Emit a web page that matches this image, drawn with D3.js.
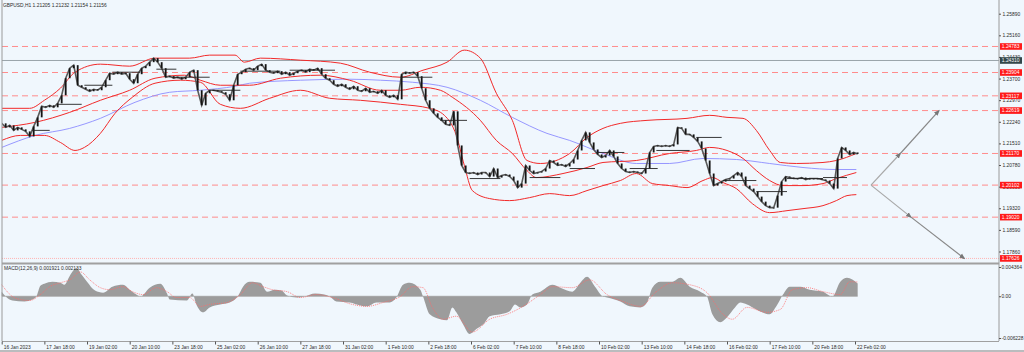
<!DOCTYPE html>
<html>
<head>
<meta charset="UTF-8" />
<title>GBPUSD H1</title>
<script src="https://d3js.org/d3.v7.min.js"></script>
<style>
  body { margin: 0; background: #f0f7fd; }
  text { font-family: "Liberation Sans", Arial, sans-serif; font-size: 4.9px; fill: #2a2a2a; }
</style>
</head>
<body>
<svg id="chart" width="1024" height="352"></svg>
<script>
// ---------------- data ----------------
var titleText = "GBPUSD,H1  1.21205 1.21232 1.21154 1.21156"
var macdText = "MACD(12,26,9) 0.001921 0.002133"

// close price every 3 bars (H1 bars, bar 0 = 16 Jan 10:00)
var barStep = 3
var closes = [
  1.22187,1.22051,1.22119,1.21950,1.22051,1.21984,1.21916,1.21746,1.22085,1.22390,
  1.22763,1.22729,1.22797,1.22729,1.22864,1.23135,1.23711,1.24050,1.24152,1.23474,
  1.23406,1.23339,1.23271,1.23339,1.23305,1.23406,1.23644,1.23881,1.23847,1.23915,
  1.23847,1.23881,1.23678,1.23542,1.23847,1.24050,1.24118,1.24253,1.24389,1.24253,
  1.24050,1.23745,1.23779,1.23711,1.23745,1.23678,1.23745,1.23915,1.23982,1.23305,
  1.22797,1.23203,1.23305,1.23305,1.23271,1.23237,1.23169,1.22966,1.23474,1.23847,
  1.23915,1.24016,1.24050,1.23982,1.24118,1.24186,1.23982,1.23915,1.23881,1.23949,
  1.23847,1.23915,1.23813,1.23881,1.23949,1.23982,1.23915,1.24016,1.23982,1.24050,
  1.23847,1.23711,1.23644,1.23508,1.23440,1.23508,1.23406,1.23339,1.23440,1.23305,
  1.23271,1.23373,1.23237,1.23271,1.23203,1.23305,1.23135,1.23068,1.23135,1.23000,
  1.23847,1.23915,1.23881,1.23915,1.23779,1.23373,1.22966,1.22695,1.22526,1.22390,
  1.22288,1.22153,1.22119,1.22593,1.21441,1.20764,1.20527,1.20493,1.20527,1.20459,
  1.20527,1.20527,1.20391,1.20662,1.20357,1.20425,1.20459,1.20391,1.20256,1.20018,
  1.20154,1.20764,1.20594,1.20493,1.20527,1.20561,1.20662,1.20933,1.20865,1.20764,
  1.20798,1.20730,1.20832,1.20967,1.21272,1.21611,1.21882,1.21543,1.21306,1.21137,
  1.21035,1.21103,1.21272,1.21069,1.20832,1.20662,1.20561,1.20527,1.20561,1.20527,
  1.20493,1.20662,1.21204,1.21408,1.21441,1.21408,1.21441,1.21408,1.21475,1.22051,
  1.22017,1.21814,1.21814,1.21712,1.21577,1.21340,1.20933,1.20493,1.20086,1.20154,
  1.20222,1.20290,1.20323,1.20425,1.20527,1.20391,1.20086,1.19985,1.19883,1.19714,
  1.19544,1.19409,1.19341,1.19341,1.19747,1.20222,1.20391,1.20357,1.20323,1.20323,
  1.20357,1.20290,1.20323,1.20323,1.20323,1.20290,1.20256,1.20154,1.19985,1.21001,
  1.21374,1.21272,1.21137,1.21204,1.21156
]

// indicator lines, [bar, price]
var bbUpper = [[0,1.22695],[21,1.22695],[32,1.22966],[44,1.23373],[55,1.23915],[74,1.24186],[96,1.24118],
  [115,1.24389],[141,1.24389],[156,1.24491],[175,1.24491],[182,1.24253],[194,1.24389],[224,1.24321],
  [254,1.24220],[276,1.23915],[299,1.23745],[316,1.23982],[334,1.24253],[347,1.24660],[359,1.24389],
  [371,1.23203],[383,1.22288],[394,1.20933],[404,1.20832],[426,1.21170],[439,1.21712],[451,1.22017],
  [464,1.22187],[484,1.22288],[514,1.22356],[531,1.22458],[544,1.22390],[556,1.22356],[566,1.21950],
  [576,1.21272],[584,1.20866],[596,1.20832],[616,1.20866],[626,1.20933],[641,1.21170]]
var bbMiddle = [[0,1.22051],[25,1.22221],[51,1.22559],[74,1.22966],[96,1.23305],[115,1.23711],[137,1.23813],
  [149,1.23644],[164,1.23474],[186,1.23474],[209,1.23711],[239,1.23813],[261,1.23644],[284,1.23305],
  [299,1.23305],[314,1.23406],[329,1.23305],[338,1.23068],[359,1.22288],[371,1.21611],[383,1.21170],
  [394,1.20594],[401,1.20357],[421,1.20493],[439,1.20696],[451,1.20866],[476,1.20933],[501,1.21170],
  [521,1.21272],[531,1.21374],[544,1.21272],[556,1.21001],[566,1.20594],[576,1.20256],[586,1.20086],
  [601,1.20086],[616,1.20154],[626,1.20323],[641,1.20527]]
var bbLower = [[0,1.21611],[14,1.21780],[32,1.21780],[44,1.21543],[55,1.21272],[62,1.21374],[74,1.21848],
  [85,1.22526],[98,1.23068],[115,1.23542],[134,1.23644],[149,1.23576],[164,1.22830],[179,1.22695],
  [201,1.23034],[224,1.23305],[246,1.23034],[269,1.22966],[299,1.22830],[321,1.22695],[332,1.22458],
  [341,1.21780],[347,1.20764],[353,1.19917],[366,1.19646],[381,1.19578],[396,1.19680],[411,1.19815],
  [426,1.19747],[439,1.19917],[451,1.20086],[464,1.20256],[476,1.20493],[488,1.20154],[501,1.20086],
  [514,1.20018],[526,1.20256],[533,1.20357],[541,1.20188],[551,1.19985],[563,1.19476],[576,1.19172],
  [589,1.19239],[601,1.19307],[616,1.19409],[626,1.19578],[634,1.19747],[641,1.19781]]
var maBlue = [[0,1.21374],[25,1.21780],[51,1.22017],[74,1.22356],[100,1.22898],[126,1.23237],[149,1.23305],
  [175,1.23440],[186,1.23542],[224,1.23644],[261,1.23678],[284,1.23644],[308,1.23576],[334,1.23406],
  [359,1.22966],[383,1.22390],[409,1.21848],[426,1.21611],[451,1.21170],[476,1.20832],[501,1.20832],
  [526,1.21001],[551,1.20967],[576,1.20832],[601,1.20696],[626,1.20628],[641,1.20628]]

// short black level segments [startBar, endBar, price]
var levelSegs = [[23,36,1.21950],[42,60,1.22830],[62,83,1.23474],[83,104,1.23915],[116,131,1.24016],
  [128,156,1.23745],[158,179,1.23305],[179,209,1.23949],[216,250,1.23982],[299,323,1.23745],
  [329,349,1.22288],[351,374,1.20323],[396,419,1.20357],[426,445,1.20662],[446,467,1.21204],
  [471,492,1.20662],[491,516,1.21272],[521,540,1.21712],[541,566,1.20256],[566,589,1.19883],
  [589,616,1.20323],[616,634,1.20357]]

// MACD histogram and signal, [bar, value]
var macdHist = [[0,0.00069],[3,-0.00004],[8,-0.00063],[17,-0.00078],[23,-0.00049],[26,-0.00004],[29,0.00157],
  [32,0.00187],[38,0.00216],[44,0.00201],[47,0.00172],[51,0.00304],[54,0.00392],[56,0.00422],[60,0.00319],
  [64,0.00216],[70,0.00084],[76,0.00054],[83,0.00143],[91,0.00172],[96,0.00098],[101,0.00025],[104,-0.00004],
  [111,0.00128],[119,0.00187],[124,0.00040],[126,-0.00049],[139,-0.00063],[143,0.00040],[146,-0.00122],
  [151,-0.00240],[156,-0.00166],[164,-0.00122],[171,-0.00093],[177,-0.00004],[181,0.00143],[186,0.00216],
  [194,0.00201],[199,0.00069],[205,0.00098],[210,0.00084],[214,0.00010],[221,-0.00019],[227,-0.00004],
  [235,0.00040],[242,0.00025],[246,-0.00004],[251,-0.00078],[261,-0.00093],[269,-0.00137],[274,-0.00151],
  [281,-0.00093],[291,-0.00093],[296,-0.00019],[301,0.00172],[306,0.00201],[314,0.00098],[316,-0.00004],
  [321,-0.00269],[329,-0.00343],[334,-0.00357],[338,-0.00166],[341,-0.00240],[346,-0.00416],[351,-0.00563],
  [356,-0.00490],[362,-0.00401],[366,-0.00298],[374,-0.00269],[381,-0.00225],[385,-0.00122],[389,-0.00166],
  [394,-0.00122],[398,0.00025],[404,0.00069],[413,0.00172],[419,0.00128],[428,0.00069],[434,0.00201],
  [439,0.00290],[445,0.00143],[451,-0.00004],[454,-0.00019],[464,-0.00078],[471,-0.00151],[479,-0.00166],
  [484,-0.00093],[488,0.00128],[494,0.00216],[503,0.00216],[509,0.00275],[516,0.00143],[524,0.00069],
  [529,-0.00004],[533,-0.00269],[539,-0.00387],[544,-0.00313],[550,-0.00166],[554,-0.00093],[559,-0.00122],
  [566,-0.00196],[576,-0.00269],[581,-0.00151],[586,0.00025],[591,0.00143],[599,0.00143],[606,0.00098],
  [616,0.00069],[623,-0.00004],[629,0.00216],[634,0.00275],[642,0.00192]]
var macdSignal = [[0,0.00172],[8,-0.00004],[14,-0.00049],[21,-0.00063],[29,0.00025],[36,0.00143],[44,0.00201],
  [51,0.00245],[59,0.00363],[66,0.00245],[74,0.00128],[81,0.00098],[91,0.00143],[98,0.00069],[106,0.00025],
  [116,0.00128],[124,0.00069],[131,-0.00019],[141,-0.00019],[149,-0.00151],[156,-0.00122],[169,-0.00093],
  [179,0.00025],[188,0.00201],[196,0.00143],[203,0.00098],[214,0.00069],[224,-0.00019],[236,0.00025],
  [248,-0.00019],[263,-0.00122],[274,-0.00151],[286,-0.00093],[299,-0.00004],[308,0.00143],[316,0.00128],
  [323,-0.00166],[331,-0.00343],[341,-0.00298],[353,-0.00534],[366,-0.00343],[379,-0.00269],[391,-0.00151],
  [404,0.00025],[413,0.00143],[428,0.00128],[441,0.00245],[454,0.00025],[466,-0.00078],[479,-0.00151],
  [491,0.00069],[503,0.00201],[516,0.00172],[529,0.00054],[541,-0.00269],[548,-0.00343],[559,-0.00166],
  [574,-0.00240],[584,-0.00196],[593,0.00098],[604,0.00128],[616,0.00069],[629,0.00025],[636,0.00216],[642,0.00213]]

// horizontal levels
var redLevels = [1.24783, 1.23904, 1.23117, 1.22619, 1.21170, 1.20102, 1.19020]
var bottomLevel = 1.17626
var greyLevel = 1.24310
var priceTicks = [1.25890, 1.25160, 1.24430, 1.23700, 1.22970, 1.22240, 1.21510, 1.20780, 1.20050, 1.19320, 1.18590, 1.17860]
var macdTicks = [0.004364, 0, -0.006228]
var macdTickLabels = ["0.004364", "0.00", "-0.006228"]

// projection arrows [bar, price]
var arrowUp = [[652,1.20102],[674,1.21170],[703,1.22619]]
var arrowDown = [[652,1.20102],[682,1.19020],[722,1.17626]]

var timeTickBars = [0,32,64,96,128,160,192,224,256,288,320,352,384,416,448,480,512,544,576,608,640]
var timeLabels = ["16 Jan 2023","17 Jan 18:00","19 Jan 02:00","20 Jan 10:00","23 Jan 18:00","25 Jan 02:00",
  "26 Jan 10:00","27 Jan 18:00","31 Jan 02:00","1 Feb 10:00","2 Feb 18:00","6 Feb 02:00","7 Feb 10:00",
  "8 Feb 18:00","10 Feb 02:00","13 Feb 10:00","14 Feb 18:00","16 Feb 02:00","17 Feb 10:00","20 Feb 18:00","22 Feb 02:00"]

// ---------------- layout ----------------
var svg = d3.select("#chart")
var plotLeft = 2, plotRight = 999
var mainTop = 0, mainBottom = 262
var macdBottom = 341

var x = d3.scaleLinear().domain([0, 640]).range([1.7, 855])
var y = d3.scaleLinear().domain([1.17860, 1.25890]).range([251.5, 13.7])
var yM = d3.scaleLinear().domain([-0.006228, 0.004364]).range([338, 267])

svg.append("rect").attr("width", 1024).attr("height", 352).attr("fill", "#f0f7fd")

// clip for main panel
svg.append("clipPath").attr("id", "mainClip").append("rect")
  .attr("x", plotLeft).attr("y", mainTop).attr("width", plotRight - plotLeft).attr("height", mainBottom - mainTop)

var main = svg.append("g").attr("clip-path", "url(#mainClip)")

// red dashed levels
main.selectAll("line.lvl").data(redLevels).enter().append("line")
  .attr("x1", plotLeft).attr("x2", plotRight)
  .attr("y1", d => y(d)).attr("y2", d => y(d))
  .attr("stroke", "#ff8c8c").attr("stroke-width", 1).attr("stroke-dasharray", "6,4")

main.append("line")
  .attr("x1", plotLeft).attr("x2", plotRight)
  .attr("y1", y(bottomLevel)).attr("y2", y(bottomLevel))
  .attr("stroke", "#ffb4b4").attr("stroke-width", 1).attr("stroke-dasharray", "1,1")

main.append("line")
  .attr("x1", plotLeft).attr("x2", plotRight)
  .attr("y1", y(greyLevel)).attr("y2", y(greyLevel))
  .attr("stroke", "#9aa4aa").attr("stroke-width", 1)

var line = d3.line().x(d => x(d[0])).y(d => y(d[1])).curve(d3.curveMonotoneX)

main.append("path").datum(maBlue).attr("d", line)
  .attr("fill", "none").attr("stroke", "#8c8cff").attr("stroke-width", 0.9)

;[bbUpper, bbMiddle, bbLower].forEach(band => {
  main.append("path").datum(band).attr("d", line)
    .attr("fill", "none").attr("stroke", "#f22a2a").attr("stroke-width", 1)
})

// price
var pts = closes.map((c, i) => [i * barStep, c])
main.append("path").datum(pts)
  .attr("d", d3.line().x(d => x(d[0])).y(d => y(d[1])))
  .attr("fill", "none").attr("stroke", "#5a5a5a").attr("stroke-width", 1.6)

main.selectAll("rect.candle").data(pts.slice(1)).enter().append("rect")
  .attr("class", "candle")
  .attr("x", d => x(d[0]) - 0.9)
  .attr("width", 1.8)
  .attr("y", (d, i) => y(Math.max(d[1], pts[i][1])))
  .attr("height", (d, i) => Math.max(0.8, Math.abs(y(d[1]) - y(pts[i][1]))))
  .attr("fill", "#141414")

main.selectAll("line.seg").data(levelSegs).enter().append("line")
  .attr("x1", d => x(d[0])).attr("x2", d => x(d[1]))
  .attr("y1", d => y(d[2])).attr("y2", d => y(d[2]))
  .attr("stroke", "#222").attr("stroke-width", 0.9)

// arrows
var defs = svg.append("defs")
defs.append("marker").attr("id", "ah").attr("viewBox", "0 0 10 10")
  .attr("refX", 8).attr("refY", 5).attr("markerWidth", 5).attr("markerHeight", 5)
  .attr("orient", "auto")
  .append("path").attr("d", "M0,1L10,5L0,9Z").attr("fill", "#777")

;[arrowUp, arrowDown].forEach(a => {
  for (var k = 0; k < a.length - 1; k++) {
    main.append("line")
      .attr("x1", x(a[k][0])).attr("y1", y(a[k][1]))
      .attr("x2", x(a[k + 1][0])).attr("y2", y(a[k + 1][1]))
      .attr("stroke", k == 0 ? "#a8a8a8" : "#888").attr("stroke-width", 1.2)
      .attr("marker-end", "url(#ah)")
  }
})

// ---------------- MACD ----------------
svg.append("line").attr("x1", plotLeft).attr("x2", x(642))
  .attr("y1", yM(0)).attr("y2", yM(0)).attr("stroke", "#b8b8b8").attr("stroke-width", 1)

svg.append("path").datum(macdHist)
  .attr("d", d3.area().x(d => x(d[0])).y0(yM(0)).y1(d => yM(d[1])).curve(d3.curveMonotoneX))
  .attr("fill", "#9c9c9c")

svg.append("path").datum(macdSignal)
  .attr("d", d3.line().x(d => x(d[0])).y(d => yM(d[1])).curve(d3.curveMonotoneX))
  .attr("fill", "none").attr("stroke", "#ff6a6a").attr("stroke-width", 0.8).attr("stroke-dasharray", "1,1")

// ---------------- frame ----------------
svg.append("line").attr("x1", plotLeft).attr("x2", plotLeft).attr("y1", 0).attr("y2", macdBottom)
  .attr("stroke", "#9a9a9a").attr("stroke-width", 1)
svg.append("line").attr("x1", plotRight).attr("x2", plotRight).attr("y1", 0).attr("y2", macdBottom)
  .attr("stroke", "#9a9a9a").attr("stroke-width", 1)
svg.append("line").attr("x1", plotLeft).attr("x2", plotRight).attr("y1", 263.5).attr("y2", 263.5)
  .attr("stroke", "#a0a0a0").attr("stroke-width", 2)
svg.append("line").attr("x1", plotLeft).attr("x2", plotRight).attr("y1", macdBottom + 0.5).attr("y2", macdBottom + 0.5)
  .attr("stroke", "#a0a0a0").attr("stroke-width", 1)
svg.append("line").attr("x1", 0).attr("x2", 1024).attr("y1", 351).attr("y2", 351)
  .attr("stroke", "#a8a8a8").attr("stroke-width", 1.5)

// ---------------- axes ----------------
var yAxis = svg.append("g").attr("transform", "translate(" + plotRight + ",0)")
  .call(d3.axisRight(y).tickValues(priceTicks).tickFormat(d3.format(".5f")).tickSize(2).tickPadding(1.5))
yAxis.select(".domain").remove()
yAxis.selectAll("line").attr("stroke", "#555")

var mAxis = svg.append("g").attr("transform", "translate(" + plotRight + ",0)")
  .call(d3.axisRight(yM).tickValues(macdTicks).tickFormat((d, i) => macdTickLabels[i]).tickSize(2).tickPadding(0.5))
mAxis.select(".domain").remove()
mAxis.selectAll("line").attr("stroke", "#555")

svg.selectAll("g.tick text").attr("font-size", null).style("font-family", null)
svg.attr("font-family", null).attr("font-size", null)
d3.selectAll("g").attr("font-family", null).attr("font-size", null)

// level boxes on the price axis
var boxes = redLevels.concat([bottomLevel]).map(v => ({ v: v, c: "#ff1a1a" }))
boxes.push({ v: greyLevel, c: "#33474a" })
var bx = svg.selectAll("g.box").data(boxes).enter().append("g")
  .attr("transform", d => "translate(1000," + y(d.v) + ")")
bx.append("rect").attr("x", 0).attr("y", -3.3).attr("width", 22).attr("height", 6.6).attr("fill", d => d.c)
bx.append("text").attr("x", 1.8).attr("y", 1.8).text(d => d.v.toFixed(5)).style("fill", "#fff")

var xAxis = svg.append("g").attr("transform", "translate(0," + (macdBottom + 0.5) + ")")
  .call(d3.axisBottom(x).tickValues(timeTickBars).tickFormat((d, i) => timeLabels[i]).tickSize(3).tickPadding(1))
xAxis.select(".domain").remove()
xAxis.selectAll("line").attr("stroke", "#555")
xAxis.selectAll("text").attr("text-anchor", "start").attr("x", 1.5).attr("dy", "0.75em")
xAxis.attr("font-family", null).attr("font-size", null)

// titles
svg.append("text").attr("x", 3).attr("y", 6.5).text(titleText)
svg.append("text").attr("x", 4).attr("y", 270).text(macdText)
</script>
</body>
</html>
